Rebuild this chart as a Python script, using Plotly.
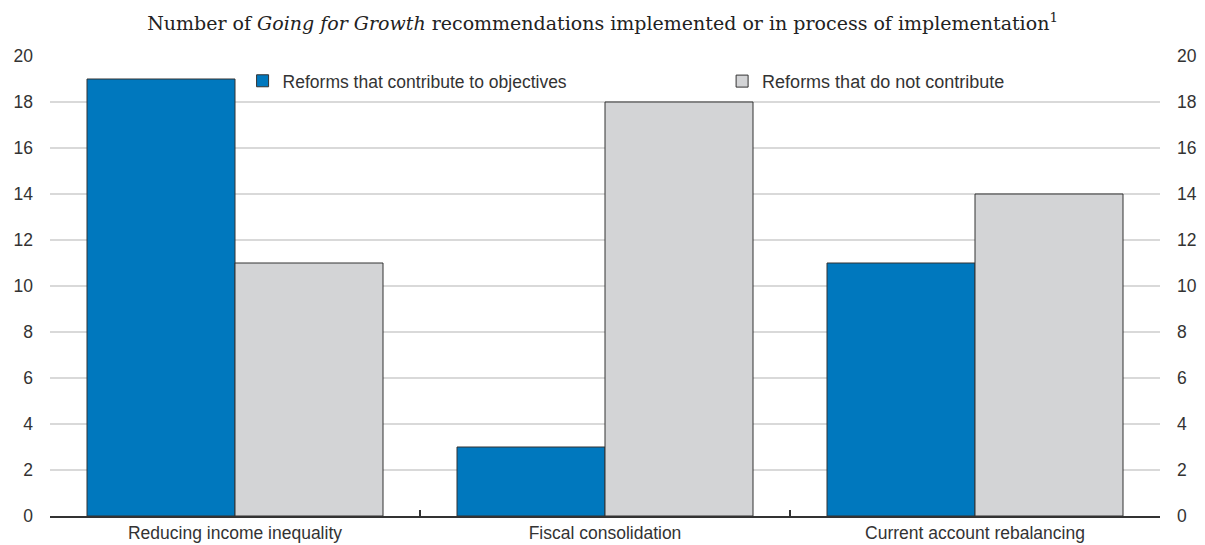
import plotly.graph_objects as go

categories = ["Reducing income inequality", "Fiscal consolidation", "Current account rebalancing"]
contribute = [19, 3, 11]
not_contribute = [11, 18, 14]
y_ticks = [0, 2, 4, 6, 8, 10, 12, 14, 16, 18, 20]

sans = "Liberation Sans, Arial, sans-serif"
serif = "DejaVu Serif, Liberation Serif, serif"
txt = "#333333"

fig = go.Figure()
fig.add_trace(go.Bar(
    x=categories, y=contribute, name="Reforms that contribute to objectives",
    marker=dict(color="#0078BE", line=dict(color="#333333", width=1)),
    legend="legend", showlegend=True,
))
fig.add_trace(go.Bar(
    x=categories, y=not_contribute, name="Reforms that do not contribute",
    marker=dict(color="#D3D4D6", line=dict(color="#333333", width=1)),
    legend="legend2", showlegend=True,
))
# invisible trace so the mirrored right-hand axis gets drawn
fig.add_trace(go.Scatter(
    x=categories, y=not_contribute, mode="none", yaxis="y2",
    showlegend=False, hoverinfo="skip",
))

fig.update_layout(
    width=1205, height=545,
    margin=dict(l=50, r=45, t=56, b=29),
    paper_bgcolor="white", plot_bgcolor="white",
    barmode="group", bargap=0.2, bargroupgap=0,
    showlegend=True,
    font=dict(family=sans, size=17, color=txt),
    title=dict(
        text="Number of <i>Going for Growth</i> recommendations implemented or in process of implementation<sup>1</sup>",
        font=dict(family=serif, size=19, color="#222222"),
        x=0.5, xanchor="center", y=0.958, yanchor="middle",
    ),
    legend=dict(
        orientation="h", x=0.1735, xanchor="left", y=0.985, yanchor="top",
        font=dict(family=sans, size=17.5, color=txt), bgcolor="rgba(0,0,0,0)",
        itemwidth=30, tracegroupgap=0,
    ),
    legend2=dict(
        orientation="h", x=0.6055, xanchor="left", y=0.985, yanchor="top",
        font=dict(family=sans, size=18, color=txt), bgcolor="rgba(0,0,0,0)",
        itemwidth=30, tracegroupgap=0,
    ),
    xaxis=dict(
        type="category", tickson="boundaries", ticks="inside", ticklen=6,
        tickcolor="#333333", tickwidth=1.5, automargin=False,
        showline=True, linecolor="#333333", linewidth=2,
        showgrid=False, tickfont=dict(family=sans, size=17.5, color=txt),
    ),
    yaxis=dict(
        range=[0, 20], tickvals=y_ticks, showgrid=True, gridcolor="#D9D9D9", gridwidth=1.5,
        zeroline=False, showline=False, ticks="", ticklabelstandoff=16, automargin=False,
        tickfont=dict(family=sans, size=17.5, color=txt),
    ),
    yaxis2=dict(
        range=[0, 20], tickvals=y_ticks, overlaying="y", side="right",
        showgrid=False, zeroline=False, showline=False, ticks="", ticklabelstandoff=16,
        automargin=False, tickfont=dict(family=sans, size=17.5, color=txt),
    ),
)

fig.write_html("out.html")
